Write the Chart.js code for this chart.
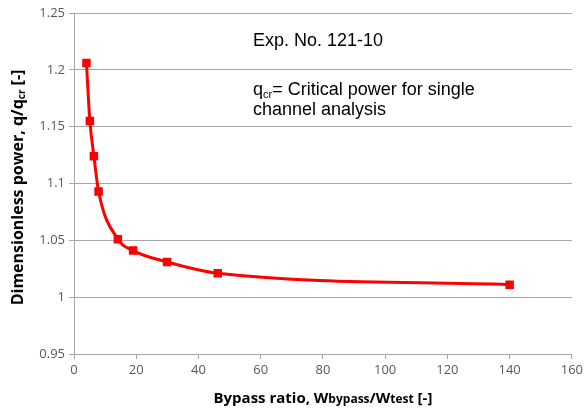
<!DOCTYPE html>
<html>
<head>
<meta charset="utf-8">
<script src="https://cdn.jsdelivr.net/npm/chart.js@4/dist/chart.umd.min.js"></script>
<style>
  html, body { margin: 0; padding: 0; background: #fff; }
  #wrap { width: 586px; height: 410px; position: relative; }
</style>
</head>
<body>
<div id="wrap"><canvas id="chart"></canvas></div>
<script>
// valores
const bypassRatio = [4, 5.1, 6.4, 7.9, 14.1, 19, 29.9, 46.2, 140];
const dimPower = [1.206, 1.155, 1.124, 1.093, 1.051, 1.041, 1.031, 1.021, 1.011];
const xTicks = [0, 20, 40, 60, 80, 100, 120, 140, 160];
const yTicks = [0.95, 1, 1.05, 1.1, 1.15, 1.2, 1.25];

const gridColor = '#a6a6a6';
const tickColor = '#595959';
const tickFont = { family: "'Open Sans', sans-serif", size: 13 };

// desenha textos com subscrito (titulos dos eixos e anotacoes)
function drawParts(ctx, parts, x, y, align) {
  let total = 0;
  for (const p of parts) {
    ctx.font = p.font;
    total += ctx.measureText(p.text).width;
  }
  let cx = align === 'center' ? x - total / 2 : x;
  for (const p of parts) {
    ctx.font = p.font;
    ctx.fillText(p.text, cx, y + (p.dy || 0));
    cx += ctx.measureText(p.text).width;
  }
}

const textPlugin = {
  id: 'textPlugin',
  afterDraw(chart) {
    const ctx = chart.ctx;
    const area = chart.chartArea;
    const boldX = "bold 15px 'Open Sans', sans-serif";
    const boldY = "bold 16px 'Open Sans', sans-serif";
    const boldSmall = "bold 10px 'Open Sans', sans-serif";
    const boldMid = "bold 12px 'Open Sans', sans-serif";
    ctx.save();
    ctx.fillStyle = '#000';
    ctx.textBaseline = 'alphabetic';
    ctx.textAlign = 'left';

    // titulo eixo x
    drawParts(ctx, [
      { text: 'Bypass ratio, W', font: boldX },
      { text: 'bypass', font: boldMid },
      { text: '/W', font: boldX },
      { text: 'test', font: boldMid },
      { text: ' [-]', font: boldX }
    ], (area.left + area.right) / 2, 403, 'center');

    // titulo eixo y
    ctx.save();
    ctx.translate(23, (area.top + area.bottom) / 2 + 4);
    ctx.rotate(-Math.PI / 2);
    drawParts(ctx, [
      { text: 'Dimensionless power, q/q', font: boldY },
      { text: 'cr', font: boldSmall, dy: 2 },
      { text: ' [-]', font: boldY }
    ], 0, 0, 'center');
    ctx.restore();

    // anotacoes
    const note = "18px 'Liberation Sans', Arial, sans-serif";
    const noteSmall = "11px 'Liberation Sans', Arial, sans-serif";
    ctx.fillStyle = '#000';
    drawParts(ctx, [{ text: 'Exp. No. 121-10', font: note }], 253, 46, 'left');
    drawParts(ctx, [
      { text: 'q', font: note },
      { text: 'cr', font: noteSmall, dy: 3 },
      { text: '= Critical power for single', font: note }
    ], 253, 95, 'left');
    drawParts(ctx, [{ text: 'channel analysis', font: note }], 253, 115, 'left');
    ctx.restore();
  }
};

const ctx = document.getElementById('chart');

new Chart(ctx, {
  type: 'scatter',
  data: {
    datasets: [{
      data: bypassRatio.map((x, i) => ({ x: x, y: dimPower[i] })),
      showLine: true,
      borderColor: '#ff0000',
      backgroundColor: '#ff0000',
      borderWidth: 3,
      cubicInterpolationMode: 'monotone',
      pointStyle: 'rect',
      pointRadius: 6,
      pointHoverRadius: 6,
      pointBorderWidth: 0
    }]
  },
  options: {
    responsive: true,
    maintainAspectRatio: false,
    animation: false,
    layout: { padding: { top: 13, right: 12, left: 0, bottom: 0 } },
    plugins: {
      legend: { display: false },
      tooltip: { enabled: false }
    },
    scales: {
      x: {
        type: 'linear',
        min: 0,
        max: 160,
        afterBuildTicks: (axis) => { axis.ticks = xTicks.map(v => ({ value: v })); },
        afterFit: (axis) => { axis.height = 56; },
        border: { color: gridColor, width: 1 },
        grid: { drawOnChartArea: false, drawTicks: true, tickLength: 5, color: gridColor },
        ticks: { color: tickColor, font: tickFont, padding: 3, maxRotation: 0, callback: (v) => String(v) }
      },
      y: {
        type: 'linear',
        min: 0.95,
        max: 1.25,
        afterBuildTicks: (axis) => { axis.ticks = yTicks.map(v => ({ value: v })); },
        afterFit: (axis) => { axis.width = 74; },
        border: { color: gridColor, width: 1 },
        grid: { color: gridColor, tickLength: 5 },
        ticks: { color: tickColor, font: tickFont, padding: 4, callback: (v) => String(v) }
      }
    }
  },
  plugins: [textPlugin]
});
</script>
</body>
</html>
